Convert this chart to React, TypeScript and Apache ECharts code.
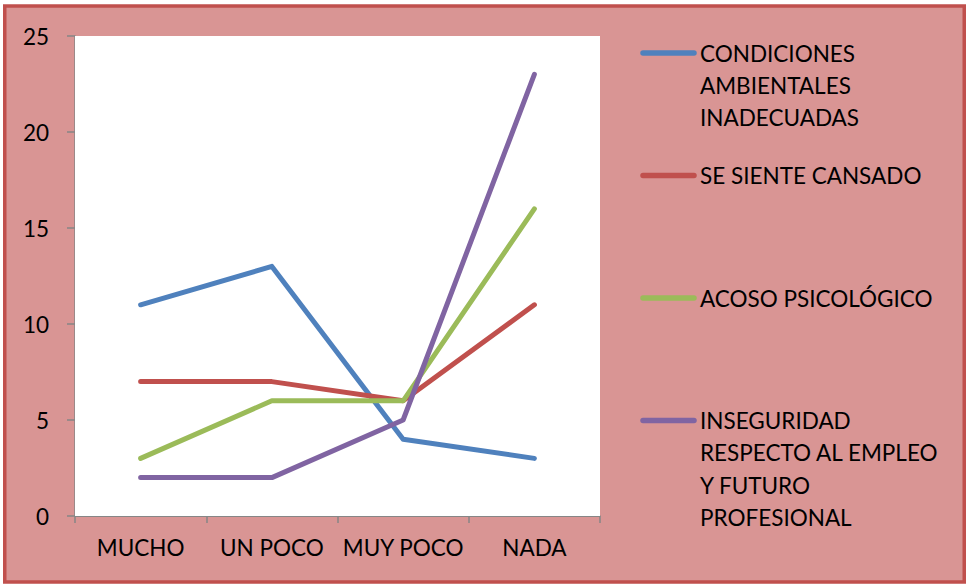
import React, { useEffect, useRef } from "react";
import * as echarts from "echarts";

const categories = ["MUCHO", "UN POCO", "MUY POCO", "NADA"];
const seriesNames = [
  "CONDICIONES\nAMBIENTALES\nINADECUADAS",
  "SE SIENTE CANSADO",
  "ACOSO PSICOLÓGICO",
  "INSEGURIDAD\nRESPECTO AL EMPLEO\nY FUTURO\nPROFESIONAL",
];
const condiciones = [11, 13, 4, 3];
const cansado = [7, 7, 6, 11];
const acoso = [3, 6, 6, 16];
const inseguridad = [2, 2, 5, 23];
const seriesData = [condiciones, cansado, acoso, inseguridad];
const colors = ["#4F81BD", "#C0504D", "#9BBB59", "#8064A2"];
const yTicks = [0, 5, 10, 15, 20, 25];

const FONT = "Lato";
const FS = 22.5;

export default function App() {
  const ref = useRef<HTMLDivElement>(null);
  useEffect(() => {
    if (!ref.current) return;
    const chart = echarts.init(ref.current, null, { renderer: "svg" });
    const legendTop = 53;
    const legendStep = 122.5;
    const legendGraphics: any[] = [];
    seriesNames.forEach((name, i) => {
      const cy = legendTop + i * legendStep;
      legendGraphics.push({
        type: "line",
        shape: { x1: 643, y1: cy, x2: 694, y2: cy },
        style: { stroke: colors[i], lineWidth: 5.5, lineCap: "round" },
      });
      legendGraphics.push({
        type: "text",
        x: 700,
        y: cy - 16,
        style: {
          text: name,
          fill: "#000",
          font: `${FS}px ${FONT}`,
          lineHeight: 32.3,
          verticalAlign: "top",
          align: "left",
        },
      });
    });
    chart.setOption({
      animation: false,
      backgroundColor: "#ffffff",
      textStyle: { fontFamily: FONT },
      grid: {
        left: 75,
        top: 36,
        right: 368,
        bottom: 70,
        show: true,
        backgroundColor: "#ffffff",
        borderWidth: 0,
        z: 1,
      },
      graphic: [
        {
          type: "rect",
          z: -100,
          shape: { x: 4.75, y: 6, width: 959.5, height: 576 },
          style: { fill: "#D99594", stroke: "#C0504D", lineWidth: 3.5 },
        },
        ...legendGraphics,
      ],
      xAxis: {
        type: "category",
        data: categories,
        boundaryGap: true,
        axisLine: { lineStyle: { color: "#868686", width: 1.5 } },
        axisTick: { show: true, interval: 0, length: 7, lineStyle: { color: "#868686", width: 1.5 } },
        axisLabel: { interval: 0, color: "#000", fontSize: FS, fontFamily: FONT, margin: 20 },
      },
      yAxis: {
        type: "value",
        min: 0,
        max: 25,
        interval: 5,
        axisLine: { show: true, lineStyle: { color: "#868686", width: 1.5 } },
        axisTick: { show: true, length: 8, lineStyle: { color: "#868686", width: 1.5 } },
        axisLabel: {
          color: "#000",
          fontSize: FS,
          fontFamily: FONT,
          margin: 26,
          formatter: (v: number) => (yTicks.includes(v) ? String(v) : ""),
        },
        splitLine: { show: true, lineStyle: { color: "#868686", width: 1 } },
      },
      series: seriesData.map((d, i) => ({
        type: "line",
        name: seriesNames[i],
        data: d,
        symbol: "none",
        z: 3,
        lineStyle: { color: colors[i], width: 5, cap: "round", join: "round" },
        itemStyle: { color: colors[i] },
      })),
    });
    return () => chart.dispose();
  }, []);
  return (
    <div
      ref={ref}
      style={{ position: "fixed", left: 0, top: 0, width: 968, height: 586 }}
    />
  );
}
